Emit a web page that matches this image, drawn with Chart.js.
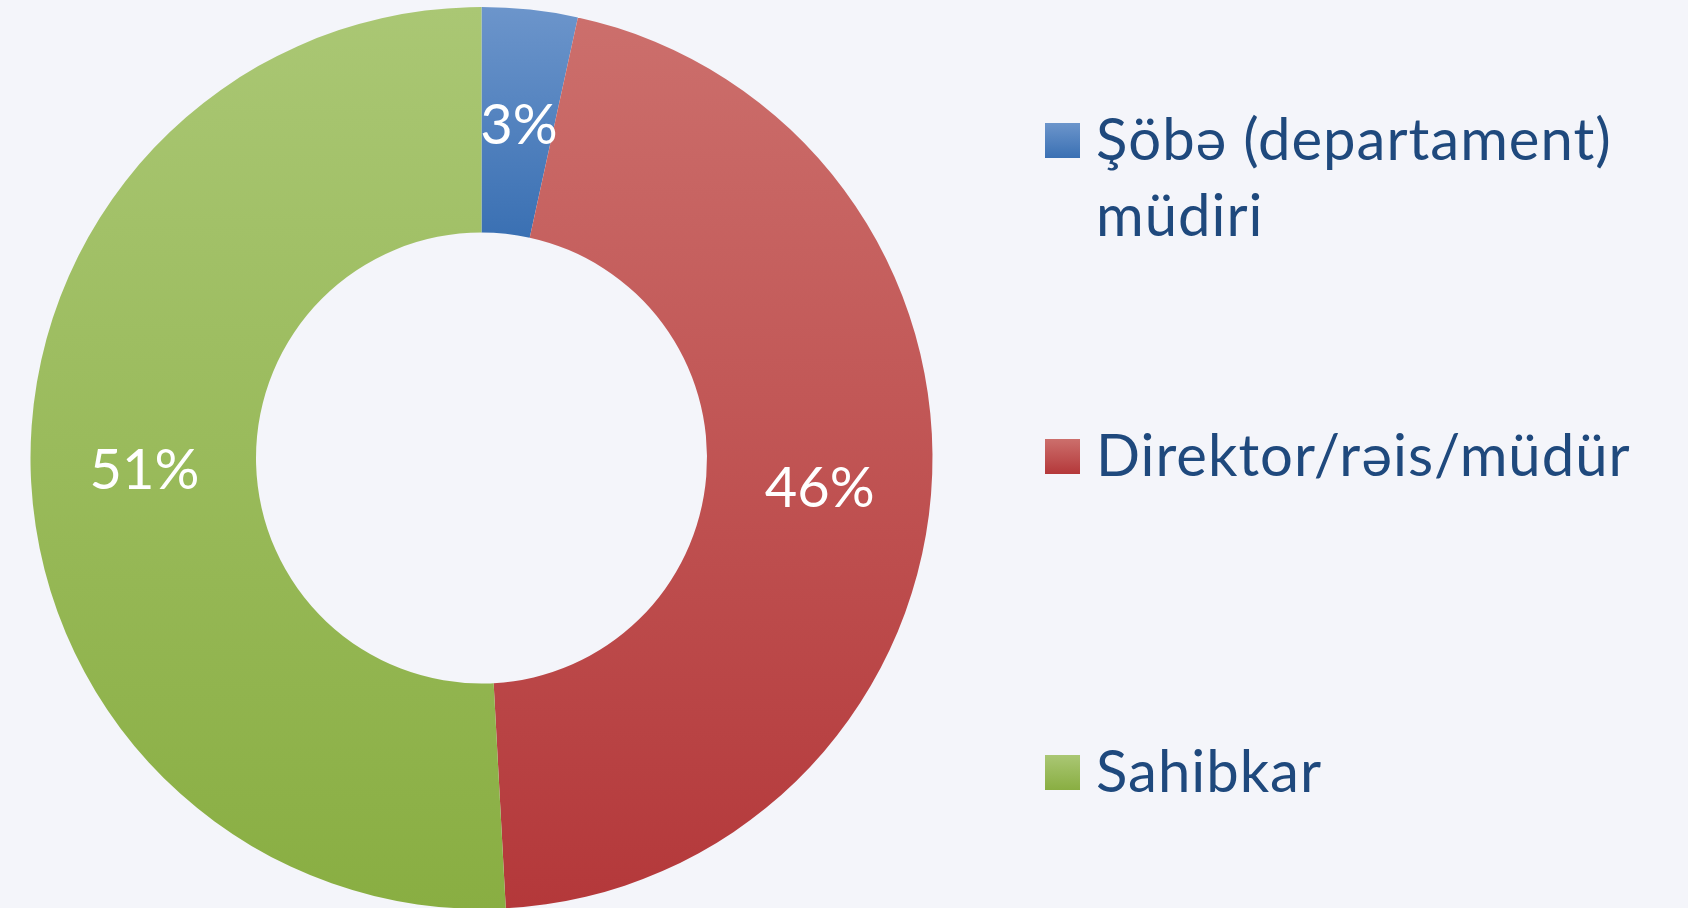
<!DOCTYPE html>
<html>
<head>
<meta charset="utf-8">
<title>Vəzifə bölgüsü</title>
<script src="https://cdn.jsdelivr.net/npm/chart.js@4.4.1/dist/chart.umd.min.js"></script>
<style>
    html, body {
        margin: 0;
        padding: 0;
        width: 1688px;
        height: 908px;
        overflow: hidden;
        background: #F4F5FA;
        font-family: Lato, 'Noto Sans', sans-serif;
    }
    #chartBox {
        position: absolute;
        left: 0;
        top: 7px;
        width: 963px;
        height: 902px;
    }
    #legend {
        position: absolute;
        left: 1045px;
        top: 0;
        width: 640px;
    }
    .legend-item {
        position: absolute;
        left: 0;
        width: 640px;
        color: #1F497D;
        font-size: 58px;
        line-height: 76px;
        letter-spacing: 1px;
    }
    .legend-box {
        position: absolute;
        left: 0;
        top: 23px;
        width: 35px;
        height: 35px;
    }
    .legend-text {
        margin-left: 51px;
        width: 570px;
    }
</style>
</head>
<body>
<div id="chartBox"><canvas id="roleChart"></canvas></div>
<div id="legend"></div>

<script>
// Chart data
const roleLabels = ['Şöbə (departament) müdiri', 'Direktor/rəis/müdür', 'Sahibkar'];
const roleCounts = [12, 160, 178];

// Gradient colours per slice (top -> bottom)
const topColors = ['#6C95CB', '#CC6F6C', '#AAC774'];
const bottomColors = ['#3A70B3', '#B4383A', '#89AE42'];
const legendTops = [100, 416, 732];

const cutoutRatio = 0.5;

/**
 * Build a vertical gradient for one slice, using its bounding box
 */
function sliceGradient(context) {
    const chart = context.chart;
    const area = chart.chartArea;
    const i = context.dataIndex;
    if (!area) {
        return topColors[i];
    }

    const total = roleCounts.reduce((a, b) => a + b, 0);
    let before = 0;
    for (let k = 0; k < i; k++) before += roleCounts[k];

    const start = -Math.PI / 2 + 2 * Math.PI * before / total;
    const end = start + 2 * Math.PI * roleCounts[i] / total;
    const cy = (area.top + area.bottom) / 2;
    const R = Math.min(area.width, area.height) / 2;
    const r = R * cutoutRatio;

    let minY = Infinity, maxY = -Infinity;
    for (let t = 0; t <= 90; t++) {
        const a = start + (end - start) * t / 90;
        [r, R].forEach(function(rad) {
            const y = cy + rad * Math.sin(a);
            minY = Math.min(minY, y);
            maxY = Math.max(maxY, y);
        });
    }

    const grad = chart.ctx.createLinearGradient(0, minY, 0, maxY);
    grad.addColorStop(0, topColors[i]);
    grad.addColorStop(1, bottomColors[i]);
    return grad;
}

/**
 * Percentage labels in the middle of each slice
 */
const percentLabels = {
    id: 'percentLabels',
    afterDatasetsDraw: function(chart) {
        const ctx = chart.ctx;
        const meta = chart.getDatasetMeta(0);
        const total = roleCounts.reduce((a, b) => a + b, 0);
        ctx.save();
        ctx.fillStyle = '#FFFFFF';
        ctx.font = '56px Lato, "Noto Sans", sans-serif';
        ctx.textAlign = 'center';
        ctx.textBaseline = 'alphabetic';
        meta.data.forEach(function(arc, i) {
            const pos = arc.tooltipPosition();
            const pct = Math.round(roleCounts[i] / total * 100) + '%';
            ctx.fillText(pct, pos.x + 1, pos.y + 22);
        });
        ctx.restore();
    }
};

/**
 * HTML legend on the right
 */
function buildLegend() {
    const legend = document.getElementById('legend');
    roleLabels.forEach(function(label, i) {
        const item = document.createElement('div');
        item.className = 'legend-item';
        item.style.top = legendTops[i] + 'px';

        const box = document.createElement('div');
        box.className = 'legend-box';
        box.style.background = 'linear-gradient(' + topColors[i] + ', ' + bottomColors[i] + ')';

        const text = document.createElement('div');
        text.className = 'legend-text';
        text.textContent = label;

        item.appendChild(box);
        item.appendChild(text);
        legend.appendChild(item);
    });
}

document.addEventListener('DOMContentLoaded', function() {
    if (typeof Chart === 'undefined') {
        console.error('Chart.js library not loaded');
        return;
    }

    buildLegend();

    new Chart(document.getElementById('roleChart').getContext('2d'), {
        type: 'doughnut',
        data: {
            labels: roleLabels,
            datasets: [{
                data: roleCounts,
                backgroundColor: sliceGradient,
                borderWidth: 0
            }]
        },
        options: {
            responsive: true,
            maintainAspectRatio: false,
            animation: false,
            cutout: '50%',
            plugins: {
                legend: { display: false },
                tooltip: { enabled: false }
            }
        },
        plugins: [percentLabels]
    });
});
</script>
</body>
</html>
